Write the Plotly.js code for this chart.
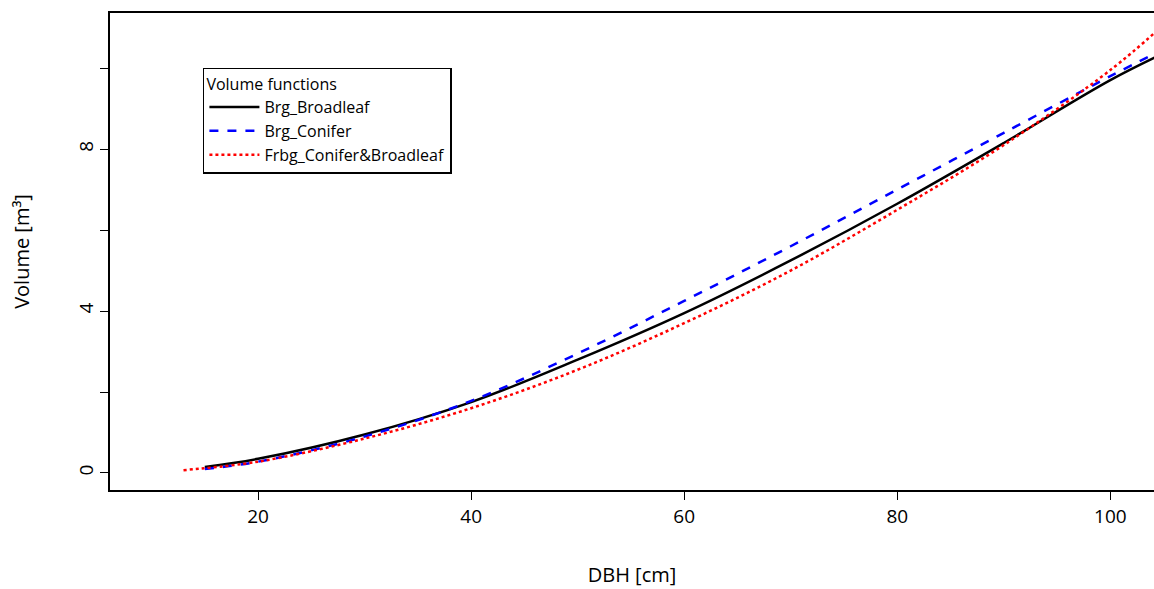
<!DOCTYPE html>
<html>
<head>
<script src="https://cdn.plot.ly/plotly-3.0.1.min.js"></script>
<style>body{margin:0;background:#fff}</style>
</head>
<body>
<div id="chart" style="width:1154px;height:589px"></div>
<script>
const dbhBroad = [15, 20, 30, 40, 50, 60, 70, 80, 90, 100, 104.5];
const volBroad = [0.15, 0.35, 0.95, 1.75, 2.8, 3.95, 5.25, 6.65, 8.15, 9.7, 10.3];
const dbhConif = [15, 20, 30, 40, 50, 60, 70, 80, 90, 100, 104.5];
const volConif = [0.1, 0.28, 0.9, 1.78, 2.95, 4.25, 5.6, 7.0, 8.4, 9.8, 10.4];
const dbhFrbg = [13, 20, 30, 40, 50, 60, 70, 80, 90, 100, 104.5];
const volFrbg = [0.07, 0.28, 0.85, 1.6, 2.55, 3.7, 5.0, 6.5, 8.1, 9.95, 10.95];

const font = "'Open Sans', 'Liberation Sans', sans-serif";

const data = [
  {x: dbhBroad, y: volBroad, name: 'Brg_Broadleaf', mode: 'lines', line: {color: '#000', width: 2.5, shape: 'spline'}},
  {x: dbhConif, y: volConif, name: 'Brg_Conifer', mode: 'lines', line: {color: '#0000ff', width: 2.5, dash: 'dash', shape: 'spline'}},
  {x: dbhFrbg, y: volFrbg, name: 'Frbg_Conifer&Broadleaf', mode: 'lines', line: {color: '#ff0000', width: 2.5, dash: 'dot', shape: 'spline'}},
];

const layout = {
  width: 1154, height: 589,
  margin: {l: 110, r: 0, t: 13, b: 99},
  paper_bgcolor: '#fff', plot_bgcolor: '#fff',
  font: {family: font, size: 19, color: '#000'},
  showlegend: true,
  legend: {
    x: 0.089, y: 0.885, xanchor: 'left', yanchor: 'top',
    bordercolor: '#000', borderwidth: 1.5, bgcolor: '#fff',
    title: {text: 'Volume functions', font: {size: 16}},
    font: {size: 16}, tracegroupgap: 0, itemwidth: 50,
  },
  xaxis: {
    range: [6.1, 104.1], tickvals: [20, 40, 60, 80, 100],
    showgrid: false, zeroline: false, showline: true, mirror: true,
    linecolor: '#000', linewidth: 1.5, ticks: 'outside', ticklen: 8, tickcolor: '#000',
    title: {text: 'DBH [cm]', font: {size: 20}, standoff: 40},
  },
  yaxis: {
    range: [-0.42, 11.36], tickvals: [0, 2, 4, 6, 8, 10], ticktext: ['0', '', '4', '', '8', ''],
    tickangle: -90,
    showgrid: false, zeroline: false, showline: true, mirror: true,
    linecolor: '#000', linewidth: 1.5, ticks: 'outside', ticklen: 8, tickcolor: '#000',
    title: {text: 'Volume [m³]', font: {size: 20}, standoff: 38},
  },
};

Plotly.newPlot('chart', data, layout, {displayModeBar: false});
</script>
</body>
</html>
